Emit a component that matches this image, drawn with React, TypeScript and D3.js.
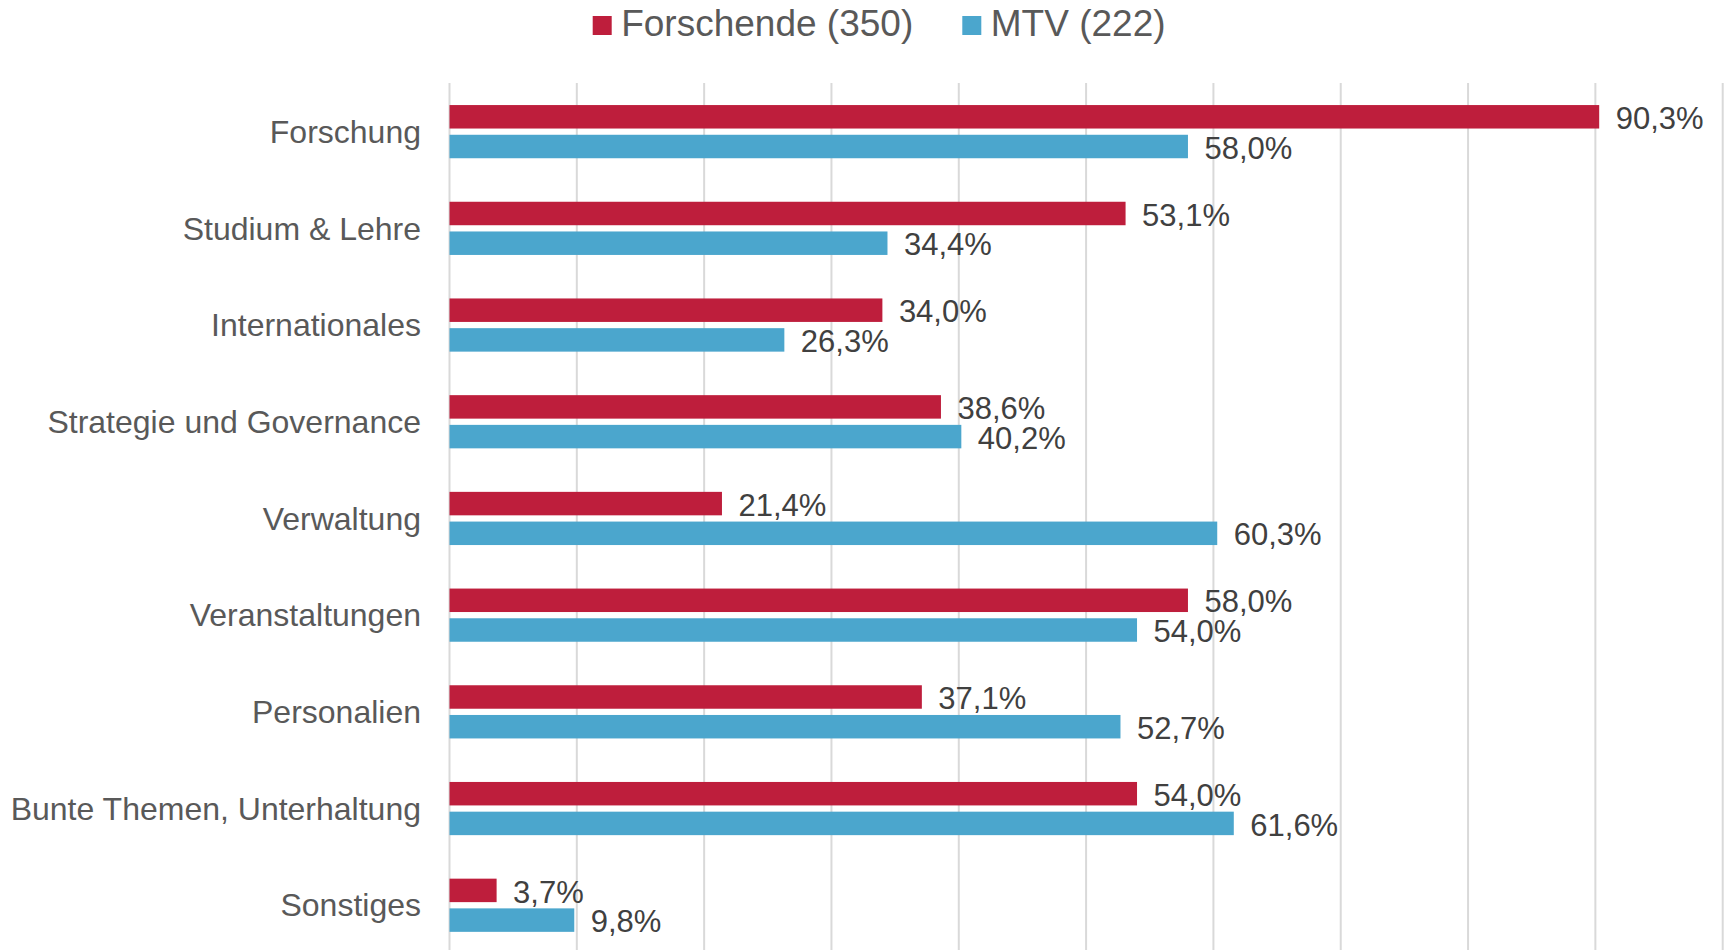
import React from "react";
import * as d3 from "d3";

const categories = [
  "Forschung",
  "Studium & Lehre",
  "Internationales",
  "Strategie und Governance",
  "Verwaltung",
  "Veranstaltungen",
  "Personalien",
  "Bunte Themen, Unterhaltung",
  "Sonstiges",
];
const forschende = [90.3, 53.1, 34.0, 38.6, 21.4, 58.0, 37.1, 54.0, 3.7];
const mtv = [58.0, 34.4, 26.3, 40.2, 60.3, 54.0, 52.7, 61.6, 9.8];
const seriesNames = ["Forschende (350)", "MTV (222)"];
const seriesColors = ["#BE1E3C", "#4BA6CD"];
const gridTicks = [0, 10, 20, 30, 40, 50, 60, 70, 80, 90, 100];

const W = 1731;
const H = 950;
const FONT = "'Liberation Sans', Arial, sans-serif";

export default function App() {
  const x = d3.scaleLinear().domain([0, 100]).range([449.5, 1722.7]);
  const y = d3
    .scaleBand<string>()
    .domain(categories)
    .range([83.3, 953.6])
    .paddingInner(0.45)
    .paddingOuter(0.225);
  const sub = d3
    .scaleBand<number>()
    .domain([0, 1])
    .range([0, y.bandwidth()])
    .paddingInner(0.21);
  const series = [forschende, mtv];
  const fmt = (v: number) => v.toFixed(1).replace(".", ",") + "%";
  const valFs = 31;

  // legend layout
  const legFs = 37;
  const sq = 19;
  const legendX = [592.7, 962.3];

  return (
    <svg
      width={W}
      height={H}
      style={{ position: "absolute", left: 0, top: 0, background: "#fff" }}
      fontFamily={FONT}
    >
      {gridTicks.map((t) => (
        <line
          key={t}
          x1={x(t)}
          x2={x(t)}
          y1={83}
          y2={H}
          stroke="#d9d9d9"
          strokeWidth={2}
        />
      ))}
      {categories.map((c, i) => {
        const y0 = y(c)!;
        return (
          <g key={c}>
            <text
              x={421}
              y={y0 + y.bandwidth() / 2}
              dy="0.35em"
              textAnchor="end"
              fontSize={32}
              fill="#595959"
            >
              {c}
            </text>
            {series.map((s, k) => {
              const by = y0 + sub(k)!;
              const bh = sub.bandwidth();
              return (
                <g key={k}>
                  <rect
                    x={x(0)}
                    y={by}
                    width={x(s[i]) - x(0)}
                    height={bh}
                    fill={seriesColors[k]}
                  />
                  <text
                    x={x(s[i]) + 16.5}
                    y={by + bh / 2 + 0.36 * valFs + 1}
                    fontSize={valFs}
                    fill="#404040"
                  >
                    {fmt(s[i])}
                  </text>
                </g>
              );
            })}
          </g>
        );
      })}
      {seriesNames.map((n, k) => (
        <g key={n}>
          <rect x={legendX[k]} y={16} width={sq} height={sq} fill={seriesColors[k]} />
          <text x={legendX[k] + sq + 9.5} y={35.7} fontSize={legFs} fill="#595959">
            {n}
          </text>
        </g>
      ))}
    </svg>
  );
}
